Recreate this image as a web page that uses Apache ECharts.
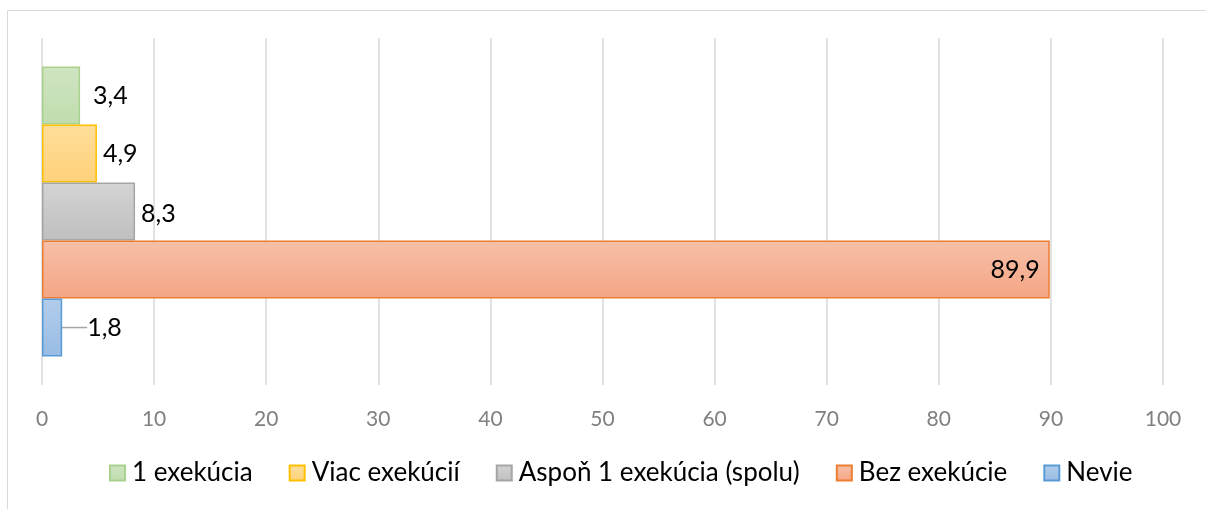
<!DOCTYPE html>
<html>
<head>
<meta charset="utf-8">
<script src="https://cdn.jsdelivr.net/npm/echarts@6/dist/echarts.min.js"></script>
<style>
    html, body { margin: 0; padding: 0; background: #fff; }
    #chart { width: 1206px; height: 509px; }
</style>
</head>
<body>
<div id="chart"></div>
<script>
// údaje
var seriesNames = ['1 exekúcia', 'Viac exekúcií', 'Aspoň 1 exekúcia (spolu)', 'Bez exekúcie', 'Nevie'];
var seriesValues = [3.4, 4.9, 8.3, 89.9, 1.8];
var xTicks = [0, 10, 20, 30, 40, 50, 60, 70, 80, 90, 100];

// farby: [horná, dolná, okraj]
var fills = [
    ['#cfe5c2', '#c1dcae', '#a9d18e'],
    ['#ffdd9a', '#ffd27a', '#ffc000'],
    ['#d4d4d4', '#bfbfbf', '#a5a5a5'],
    ['#f7c0a8', '#f4a584', '#ed7d31'],
    ['#b2cdeb', '#98bce4', '#5b9bd5']
];

function grad(c) {
    return {
        type: 'linear', x: 0, y: 0, x2: 0, y2: 1,
        colorStops: [{ offset: 0, color: c[0] }, { offset: 1, color: c[1] }]
    };
}

function fmt(p) {
    return String(p.value).replace('.', ',');
}

var myChart = echarts.init(document.getElementById('chart'));

var series = [];
for (var i = 0; i < seriesNames.length; i++) {
    var s = {
        name: seriesNames[i],
        type: 'bar',
        data: [seriesValues[i]],
        barGap: '0%',
        barCategoryGap: '16.4%',
        itemStyle: {
            color: grad(fills[i]),
            borderColor: fills[i][2],
            borderWidth: 1.5
        },
        label: {
            show: true,
            position: 'right',
            distance: i === 0 ? 13 : 6,
            formatter: fmt,
            color: '#000',
            fontSize: 25,
            fontFamily: 'Lato'
        }
    };
    if (i === 2) {
        s.label.offset = [0, 2];
    }
    if (i === 3) {
        s.label.position = 'insideRight';
        s.label.distance = 10;
    }
    if (i === 4) {
        s.label.distance = 3;
        s.labelLayout = { dx: 22 };
        s.labelLine = { show: true, lineStyle: { color: '#a6a6a6', width: 1.5 } };
    }
    series.push(s);
}

var option = {
    animation: false,
    graphic: [{
        type: 'rect',
        shape: { x: 7.5, y: 10.5, width: 1400, height: 700 },
        style: { fill: 'none', stroke: '#d9d9d9', lineWidth: 1 },
        z: -10
    }],
    grid: {
        top: 38,
        left: 42,
        right: 43,
        bottom: 124
    },
    legend: {
        top: 455,
        left: 104,
        icon: 'rect',
        itemWidth: 15,
        itemHeight: 15,
        itemGap: 36,
        textStyle: {
            color: '#000',
            fontSize: 26,
            fontFamily: 'Lato',
            padding: [0, 0, 0, 2]
        },
        data: seriesNames
    },
    xAxis: {
        type: 'value',
        min: xTicks[0],
        max: xTicks[xTicks.length - 1],
        interval: 10,
        axisLine: { show: false },
        axisTick: { show: false },
        axisLabel: {
            color: '#808080',
            fontSize: 21,
            fontFamily: 'Lato',
            margin: 24
        },
        splitLine: {
            show: true,
            lineStyle: { color: '#d9d9d9', width: 1.5 }
        }
    },
    yAxis: {
        type: 'category',
        inverse: true,
        data: [''],
        axisLine: { show: false },
        axisTick: { show: false },
        axisLabel: { show: false }
    },
    series: series
};

myChart.setOption(option);
</script>
</body>
</html>
